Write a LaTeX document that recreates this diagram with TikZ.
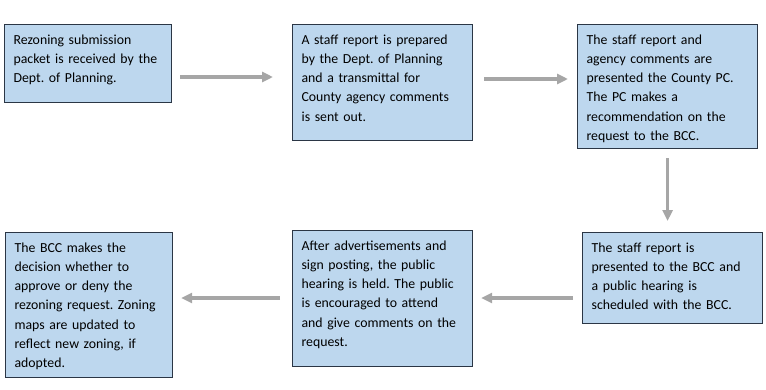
\documentclass[tikz,border=0pt]{standalone}
\usepackage{fontspec}
\setmainfont{Carlito}
\usepackage{tikz}
\usetikzlibrary{positioning, arrows.meta}
\definecolor{boxfill}{HTML}{BDD7EE}
\definecolor{boxline}{HTML}{2B3645}
\definecolor{flowgray}{HTML}{A6A6A6}
\frenchspacing
\hyphenpenalty=10000

\begin{document}
\begin{tikzpicture}[x=1pt, y=-1pt, font=\fontsize{13.8}{19.2}\selectfont,
  stage/.style={draw=boxline, line width=1.2pt, fill=boxfill, anchor=north west,
    align=left, inner xsep=9pt, inner ysep=0pt, text height=19.6pt},
  flow/.style={draw=flowgray, line width=3.6pt, -{Triangle[length=11pt, width=10pt]}}]
  \useasboundingbox (0,0) rectangle (766,389);
  % top row
  \node[stage, text width=149pt, text depth=58.4pt] (packet) at (4,24)
       {Rezoning submission\\packet is received by the\\Dept. of Planning.};
  \node[stage, text width=162pt, text depth=96.4pt] (report) at (292,24)
       {A staff report is prepared\\by the Dept. of Planning\\and a transmittal for\\County agency comments\\is sent out.};
  \node[stage, text width=162pt, text depth=104.4pt] (pc) at (577,24)
       {The staff report and\\agency comments are\\presented the County PC.\\The PC makes a\\recommendation on the\\request to the BCC.};
  % bottom row
  \node[stage, text width=162pt, text depth=71.4pt] (sched) at (582,232)
       {The staff report is\\presented to the BCC and\\a public hearing is\\scheduled with the BCC.};
  \node[stage, text width=162pt, text depth=116.4pt] (hearing) at (292,230)
       {After advertisements and\\sign posting, the public\\hearing is held. The public\\is encouraged to attend\\and give comments on the\\request.};
  \node[stage, text width=149pt, text depth=125.4pt] (decision) at (5,232)
       {The BCC makes the\\decision whether to\\approve or deny the\\rezoning request. Zoning\\maps are updated to\\reflect new zoning, if\\adopted.};
  % arrows
  \draw[flow, shorten <=8pt, shorten >=19pt] (packet.east |- 0,77) -- (report.west |- 0,77);
  \draw[flow, shorten <=11pt, shorten >=9pt] (report.east |- 0,79) -- (pc.west |- 0,79);
  \draw[flow, shorten <=9pt, shorten >=11pt] (pc.south) -- (pc.south |- sched.north);
  \draw[flow, shorten <=9pt, shorten >=8pt] (sched.west |- 0,298) -- (hearing.east |- 0,298);
  \draw[flow, shorten <=12pt, shorten >=8pt] (hearing.west |- 0,298) -- (decision.east |- 0,298);
\end{tikzpicture}
\end{document}
